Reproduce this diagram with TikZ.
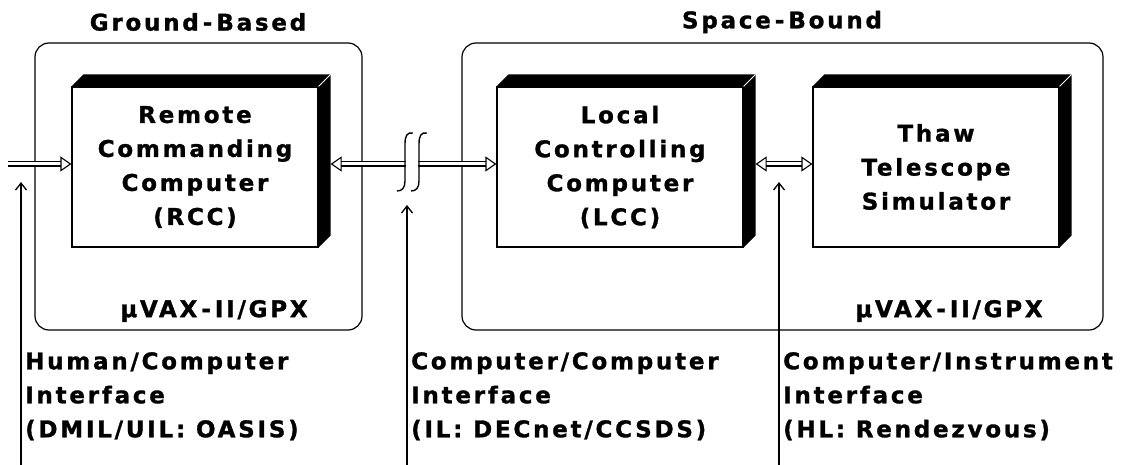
\documentclass[tikz,border=0pt]{standalone}
\usepackage{fontspec}
\newfontfamily\chicago[LetterSpace=12,BoldFeatures={FakeBold=1.2}]{DejaVu Sans}
\usetikzlibrary{arrows.meta,positioning}
\newcommand\dash{\hspace{4pt}-\hspace{4pt}}
\tikzset{
  txt/.style={font=\chicago\bfseries\fontsize{23}{34}\selectfont, inner sep=0pt},
  grp/.style={draw, line width=1.2pt, rounded corners=14pt, minimum height=287pt},
  unit/.style={txt, draw, line width=1.2pt, minimum width=246pt, minimum height=160pt,
    align=center},
  iface/.style={txt, align=left, anchor=north west},
  link/.style={double, double distance=3pt, line width=1.1pt},
  pointer/.style={line width=1.3pt, -{Straight Barb[length=7pt,width=11pt]}}
}
\begin{document}
\begin{tikzpicture}[x=1pt,y=-1pt,>={Triangle[open,length=11pt,width=15pt]}]
  \useasboundingbox (0,0) rectangle (1145,465);
  % enclosures
  \node[grp, minimum width=327pt] (ground) at (198.5,186.5) {};
  \node[grp, minimum width=641pt] (space) at (782.5,186.5) {};
  \node[txt] (groundlbl) at (198,22) {Ground\dash Based};
  \node[txt] (spacelbl) at (782,22) {Space\dash Bound};
  \node[txt] (groundvax) at (214,311) {µVAX\dash II/GPX};
  \node[txt] (spacevax) at (949,311) {µVAX\dash II/GPX};
  % computers
  \node[unit] (rcc) at (195,167) {Remote\\Commanding\\Computer\\(RCC)};
  \node[unit] (lcc) at (620,167) {Local\\Controlling\\Computer\\(LCC)};
  \node[unit] (thaw) at (936,167) {Thaw\\Telescope\\Simulator};
  \foreach \b in {rcc,lcc,thaw} {
    \fill (\b.north west) -- ++(12,-12) -- ([shift={(12,-12)}]\b.north east)
      -- ([shift={(12,-12)}]\b.south east) -- (\b.south east) -- (\b.north east) -- cycle;
    \draw[white, line width=0.8pt] (\b.north east) -- ++(12,-12);
  }
  \coordinate (rccside) at ([xshift=12pt]rcc.east);
  \coordinate (lccside) at ([xshift=12pt]lcc.east);
  \coordinate (userin) at (8,164);
  % links
  \draw[link, ->] (userin) -- (userin -| rcc.west);
  \draw[link, <->] (rccside |- userin) -- (userin -| lcc.west);
  \draw[link, <->] (lccside |- userin) -- (userin -| thaw.west);
  % break in the network link
  \fill[white] (406,156) rectangle (418,176);
  \draw[line width=1.4pt] (413,133) .. controls (407,132) and (405,136) .. (405,144)
    -- (405,181) .. controls (405,188) and (402,191) .. (397,191);
  \draw[line width=1.4pt] (427,133) .. controls (421,132) and (419,136) .. (419,144)
    -- (419,181) .. controls (419,188) and (416,191) .. (411,191);
  % interfaces
  \node[iface] (hci) at (25,352) {Human/Computer\\Interface\\(DMIL/UIL: OASIS)};
  \node[iface] (cci) at (411,352) {Computer/Computer\\Interface\\(IL: DECnet/CCSDS)};
  \node[iface] (cii) at (783,352) {Computer/Instrument\\Interface\\(HL: Rendezvous)};
  \coordinate (hcitip) at (21,182);
  \coordinate (ccitip) at (407,205);
  \coordinate (ciitip) at (779,182);
  \draw[pointer] (hcitip |- 0,465) -- (hcitip);
  \draw[pointer] (ccitip |- 0,465) -- (ccitip);
  \draw[pointer] (ciitip |- 0,465) -- (ciitip);
\end{tikzpicture}
\end{document}
